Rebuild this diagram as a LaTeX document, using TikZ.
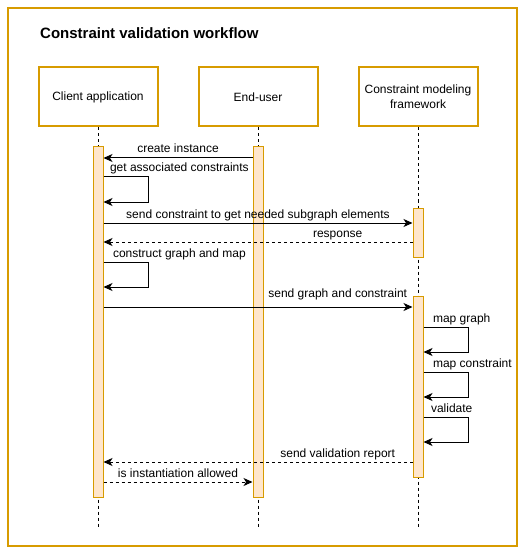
\documentclass[tikz,border=0pt]{standalone}
\usepackage{fontspec}
\setmainfont{Liberation Sans}
\usetikzlibrary{arrows.meta}
\definecolor{gold}{HTML}{D79B00}
\definecolor{peach}{HTML}{FFE6CC}

\begin{document}
\begin{tikzpicture}[x=1pt,y=-1pt,>={Stealth[length=9pt,width=8pt,inset=2.5pt]},
    every node/.style={font=\fontsize{12}{15}\selectfont},
    head/.style={draw=gold,line width=2pt,minimum width=119pt,minimum height=59pt,align=center},
    bar/.style={draw=gold,fill=peach,line width=1pt,minimum width=10pt,inner sep=0pt},
    life/.style={line width=1pt,dash pattern=on 3pt off 3pt},
    msg/.style={->,line width=1pt},
    reply/.style={->,line width=1pt,dash pattern=on 3pt off 3pt},
    lbl/.style={anchor=base,yshift=5pt,inner sep=0pt}]
  \useasboundingbox (0,0) rectangle (527,553);
  \draw[gold,line width=2pt] (8,8) rectangle (517,546);
  \node[anchor=west,inner sep=0pt,font=\fontsize{15}{18}\selectfont\bfseries] (title) at (40,33) {Constraint validation workflow};

  \node[head] (client) at (98,97) {Client application};
  \node[head] (user) at (258,97) {End-user};
  \node[head] (framework) at (418,97) {Constraint modeling\\framework};

  \draw[life] (client.south) -- (client.south |- 0,527);
  \draw[life] (user.south) -- (user.south |- 0,527);
  \draw[life] (framework.south) -- (framework.south |- 0,527);

  \node[bar,minimum height=350pt] (cbar) at (98,322) {};
  \node[bar,minimum height=350pt] (ubar) at (258,322) {};
  \node[bar,minimum height=49pt] (fbara) at (418,232.5) {};
  \node[bar,minimum height=181pt] (fbarb) at (418,386.5) {};

  \draw[msg] (ubar.west |- 0,158) -- node[lbl] {create instance} (cbar.east |- 0,158);
  \draw[msg] (cbar.east |- 0,177) node[lbl,anchor=base west,xshift=6pt] {get associated constraints}
    -- ++(45,0) |- (cbar.east |- 0,202);
  \draw[msg] (cbar.east |- 0,223) -- node[lbl] {send constraint to get needed subgraph elements} (fbara.west |- 0,223);
  \draw[reply] (fbara.west |- 0,242) -- node[lbl,pos=0.242] {response} (cbar.east |- 0,242);
  \draw[msg] (cbar.east |- 0,262) node[lbl,anchor=base west,xshift=9pt] {construct graph and map}
    -- ++(45,0) |- (cbar.east |- 0,287);
  \draw[msg] (cbar.east |- 0,307) -- node[lbl,pos=0.758,yshift=5pt] {send graph and constraint} (fbarb.west |- 0,307);
  \draw[msg] (fbarb.east |- 0,327) node[lbl,anchor=base west,xshift=9pt] {map graph}
    -- ++(45,0) |- (fbarb.east |- 0,352);
  \draw[msg] (fbarb.east |- 0,372) node[lbl,anchor=base west,xshift=9pt] {map constraint}
    -- ++(45,0) |- (fbarb.east |- 0,397);
  \draw[msg] (fbarb.east |- 0,417) node[lbl,anchor=base west,xshift=7pt] {validate}
    -- ++(45,0) |- (fbarb.east |- 0,442);
  \draw[reply] (fbarb.west |- 0,462) -- node[lbl,pos=0.242] {send validation report} (cbar.east |- 0,462);
  \draw[reply] (cbar.east |- 0,482) -- node[lbl] {is instantiation allowed} (ubar.west |- 0,482);
\end{tikzpicture}
\end{document}
